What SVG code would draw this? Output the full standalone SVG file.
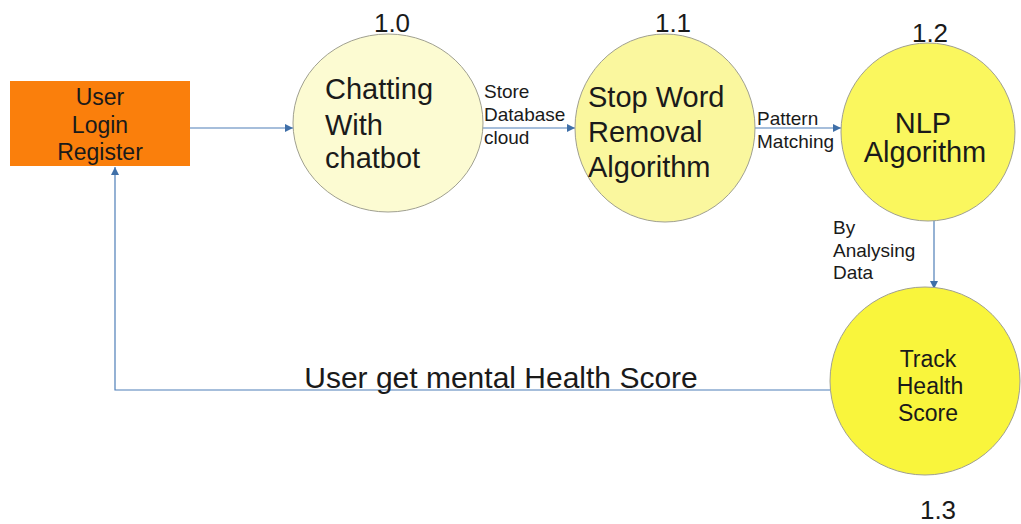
<svg xmlns="http://www.w3.org/2000/svg" width="1021" height="524" viewBox="0 0 1021 524">
<style>
text{font-family:"Liberation Sans",Arial,sans-serif;fill:#1a1a1a}
.big{font-size:29px}
.num{font-size:26px}
.sm{font-size:19px}
.mid{font-size:23px}
.circ{stroke:#a0a090;stroke-width:1}
.conn{stroke:#4f7fb8;stroke-width:1.2;fill:none}
</style>
<defs>
<marker id="ah" viewBox="0 0 10 10" refX="10" refY="5" markerWidth="8" markerHeight="8" orient="auto" markerUnits="userSpaceOnUse">
<path d="M0,0 L10,5 L0,10 z" fill="#3f6fa8"/>
</marker>
</defs>
<rect width="1021" height="524" fill="#ffffff"/>
<g id="connectors">
<line class="conn" x1="190" y1="128" x2="293" y2="128" marker-end="url(#ah)"/>
<line class="conn" x1="482" y1="128" x2="575" y2="128" marker-end="url(#ah)"/>
<line class="conn" x1="755" y1="128" x2="841" y2="128" marker-end="url(#ah)"/>
<line class="conn" x1="934" y1="221" x2="934" y2="289" marker-end="url(#ah)"/>
<polyline class="conn" points="830,390 115,390 115,167" marker-end="url(#ah)"/>
<text class="sm" x="484" y="98">Store</text>
<text class="sm" x="484" y="121">Database</text>
<text class="sm" x="484" y="144">cloud</text>
<text class="sm" x="757" y="125">Pattern</text>
<text class="sm" x="757" y="148">Matching</text>
<text class="sm" x="833" y="234">By</text>
<text class="sm" x="833" y="257">Analysing</text>
<text class="sm" x="833" y="279">Data</text>
<text x="501" y="388" font-size="30" text-anchor="middle">User get mental Health Score</text>
</g>
<g id="user">
<rect x="10" y="81" width="180" height="85" fill="#fa7f0c"/>
<text class="mid" x="100" y="105" text-anchor="middle">User</text>
<text class="mid" x="100" y="133" text-anchor="middle">Login</text>
<text class="mid" x="100" y="160" text-anchor="middle">Register</text>
</g>
<g id="p10">
<ellipse class="circ" cx="388" cy="123" rx="95" ry="89" fill="#fcfbd2"/>
<text class="num" x="392" y="32" text-anchor="middle">1.0</text>
<text class="big" x="325" y="99">Chatting</text>
<text class="big" x="325" y="135">With</text>
<text class="big" x="325" y="168">chatbot</text>
</g>
<g id="p11">
<ellipse class="circ" cx="665" cy="128" rx="90" ry="94" fill="#faf79e"/>
<text class="num" x="673" y="32" text-anchor="middle">1.1</text>
<text class="big" x="588" y="107">Stop Word</text>
<text class="big" x="588" y="142">Removal</text>
<text class="big" x="588" y="177">Algorithm</text>
</g>
<g id="p12">
<ellipse class="circ" cx="928" cy="132" rx="87" ry="89" fill="#faf75e"/>
<text class="num" x="930" y="42" text-anchor="middle">1.2</text>
<text class="big" x="923" y="133" text-anchor="middle">NLP</text>
<text class="big" x="925" y="162" text-anchor="middle">Algorithm</text>
</g>
<g id="p13">
<ellipse class="circ" cx="925" cy="381" rx="95" ry="94" fill="#f9f53c"/>
<text class="mid" x="928" y="367" text-anchor="middle">Track</text>
<text class="mid" x="930" y="394" text-anchor="middle">Health</text>
<text class="mid" x="928" y="421" text-anchor="middle">Score</text>
<text class="num" x="938" y="519" text-anchor="middle">1.3</text>
</g>
</svg>
